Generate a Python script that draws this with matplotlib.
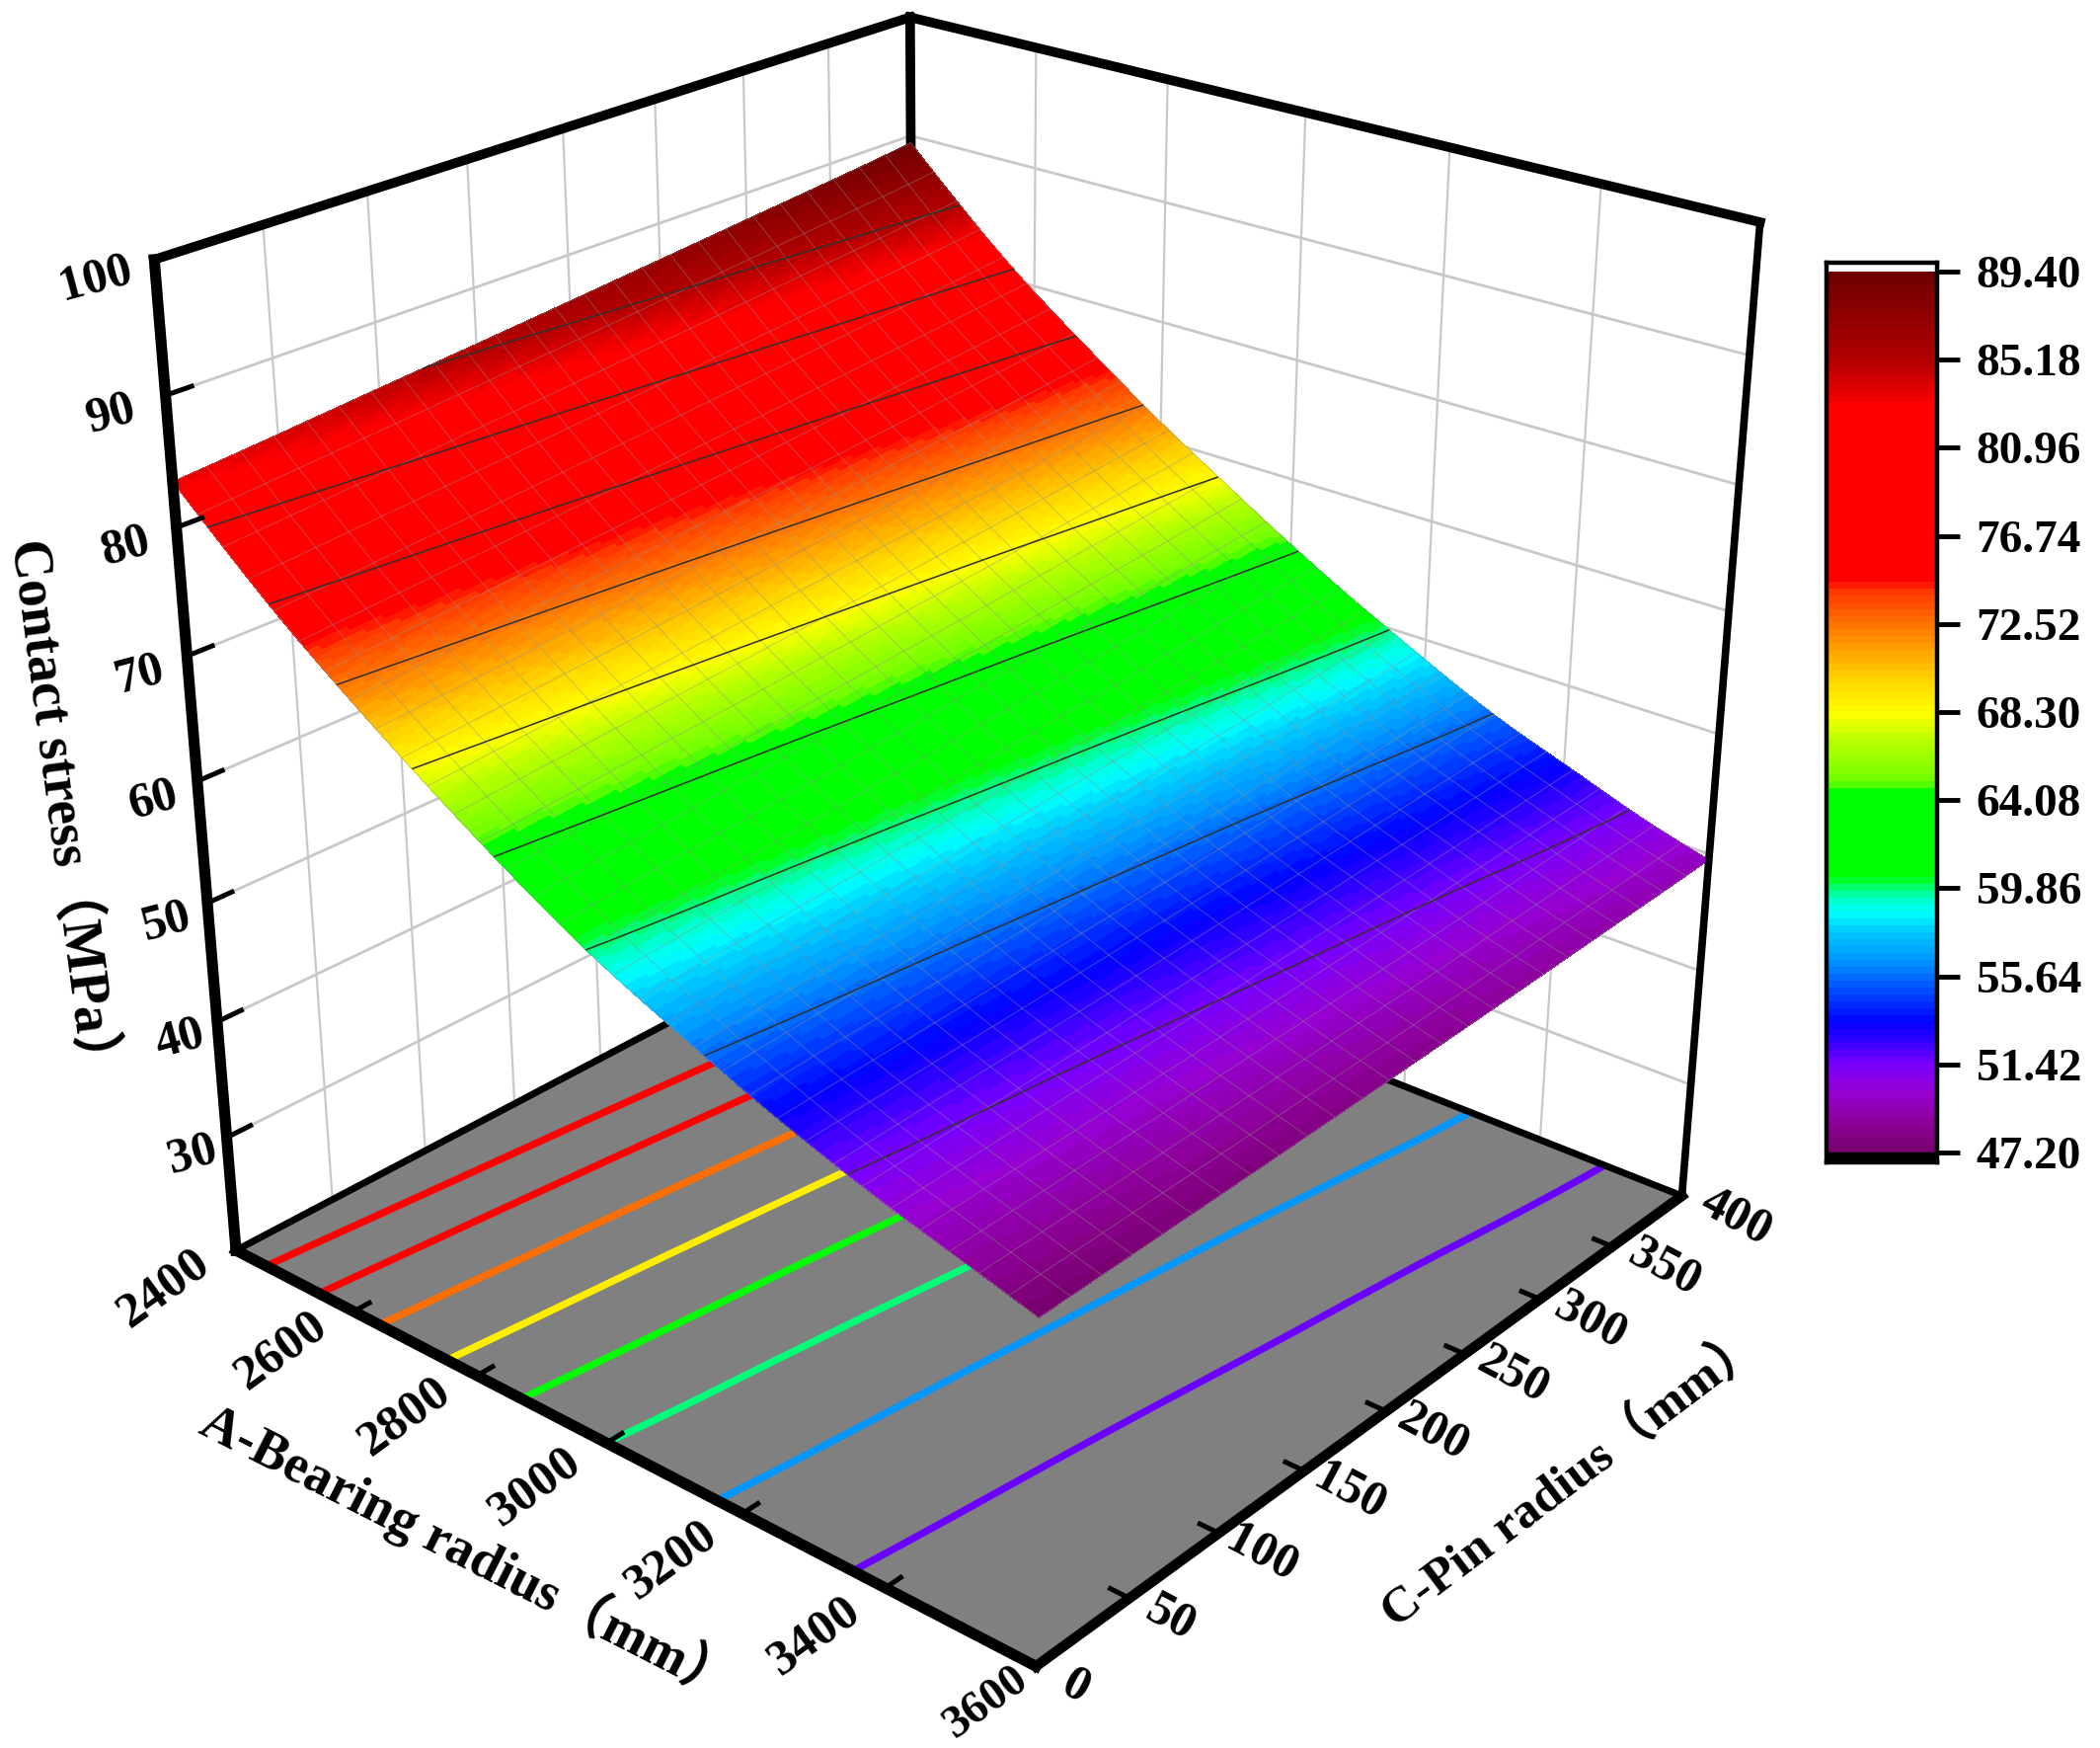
from matplotlib import pyplot as plt
from matplotlib.colors import LinearSegmentedColormap, BoundaryNorm
from matplotlib.tri import Triangulation, CubicTriInterpolator
from mpl_toolkits.mplot3d.art3d import Poly3DCollection
from mpl_toolkits.mplot3d import proj3d
import numpy as np

# values, one list per pin radius
bearing = [2400, 2500, 2600, 2700, 2800, 2900, 3000, 3100, 3200, 3300, 3400, 3500, 3600]
pin = [0, 100, 200, 300, 400]
stress_c0 = [83.50, 78.68, 74.25, 70.28, 66.55, 63.06, 59.86, 57.22, 54.75, 52.53, 50.58, 48.89, 47.20]
stress_c100 = [84.87, 79.95, 75.45, 71.45, 67.67, 64.17, 60.90, 58.12, 55.54, 53.19, 51.18, 49.37, 47.67]
stress_c200 = [86.30, 81.28, 76.72, 72.69, 68.87, 65.34, 62.01, 59.09, 56.39, 53.92, 51.85, 49.93, 48.20]
stress_c300 = [87.81, 82.70, 78.07, 74.01, 70.14, 66.60, 63.20, 60.14, 57.33, 54.72, 52.59, 50.56, 48.82]
stress_c400 = [89.40, 84.18, 79.49, 75.40, 71.48, 67.92, 64.46, 61.26, 58.33, 55.60, 53.41, 51.26, 49.50]

bar_ticks = [47.20, 51.42, 55.64, 59.86, 64.08, 68.30, 72.52, 76.74, 80.96, 85.18, 89.40]
floor_levels = [51.42, 55.64, 59.86, 64.08, 68.30, 72.52, 76.74, 80.96]
floor_colors = ['#6a00ff', '#0096ff', '#00ff78', '#00ff00', '#ffee00', '#ff6e00', '#ff0000', '#ff0000']
bearing_ticks = [2400, 2600, 2800, 3000, 3200, 3400, 3600]
pin_ticks = [0, 50, 100, 150, 200, 250, 300, 350, 400]
stress_ticks = [30, 40, 50, 60, 70, 80, 90, 100]

bar_stops = [47.2, 47.3, 48.4, 49.9, 51.3, 52.4, 53.3, 54.1, 55.1, 56.3, 57.6, 58.55, 59.2, 59.74, 60.3,
             64.48, 64.9, 66.8, 68.2, 69.7, 71.0, 72.6, 74.0, 74.63, 83.16, 83.48, 85.13, 89.4]
bar_colors = ['#780070', '#7c0074', '#8c0096', '#9600d2', '#7800ff', '#3200ff', '#0000ff', '#0028ff',
              '#005aff', '#0096ff', '#00c8ff', '#00ffff', '#00ffc8', '#00ff6e', '#00ff00',
              '#00ff00', '#6eff00', '#b4ff00', '#ffff00', '#ffd700', '#ffaa00', '#ff6e00', '#ff3c00',
              '#ff0000', '#ff0000', '#f00000', '#b40000', '#6e0000']

W, H = 2127, 1770
plt.rcParams['font.family'] = ['Liberation Serif', 'Noto Sans CJK SC']
plt.rcParams['font.weight'] = 'bold'

pos = [(v - bar_stops[0]) / (bar_stops[-1] - bar_stops[0]) for v in bar_stops]
cmap = LinearSegmentedColormap.from_list('stress', list(zip(pos, bar_colors)), N=512)
bands = np.linspace(47.2, 89.4, 129)
norm = BoundaryNorm(bands, cmap.N)

fig = plt.figure(figsize=(W / 100, H / 100), dpi=100)
# the axes is larger than the figure so the front corner is not clipped
S = 2000
ax = fig.add_axes([-48 / W, -24 / H, S / W, S / H], projection='3d', computed_zorder=False)
ax.set_xlim(2400, 3600, view_margin=0)
ax.set_ylim(0, 400, view_margin=0)
ax.set_zlim(20, 100, view_margin=0)
ax.set_box_aspect((1.01, 1, 1.01), zoom=0.92)
ax.view_init(elev=25.4, azim=-49.4)
ax.set_proj_type('persp', focal_length=0.416)
ax.set_axis_off()

# smooth the table for drawing
AA, CC = np.meshgrid(bearing, pin)
table = np.array([stress_c0, stress_c100, stress_c200, stress_c300, stress_c400])
tri = Triangulation(AA.ravel(), CC.ravel())
interp = CubicTriInterpolator(tri, table.ravel())
fa, fc = np.meshgrid(np.linspace(2400, 3600, 241), np.linspace(0, 400, 81))
fz = np.asarray(interp(fa, fc))
wa, wc = np.meshgrid(np.linspace(2400, 3600, 33), np.linspace(0, 400, 26))
wz = np.asarray(interp(wa, wc))


def seg(p, q, **kw):
    ax.plot([p[0], q[0]], [p[1], q[1]], [p[2], q[2]], **kw)


def label(x, y, z, s, **kw):
    # Text3D ignores rotation, so place it in the 2D view of the axes
    px, py, _ = proj3d.proj_transform(x, y, z, ax.get_proj())
    ax.text2D(px, py, s, transform=ax.transData, ha='center', va='center', zorder=8,
              rotation_mode='anchor', clip_on=False, **kw)


# walls
grid = dict(color='#c8c8c8', zorder=1)
for c in pin_ticks[1:-1]:
    seg((2400, c, 20), (2400, c, 100), lw=1.6, **grid)
for a in bearing_ticks[1:-1]:
    seg((a, 400, 20), (a, 400, 100), lw=1.6, **grid)
for z in stress_ticks[:-1]:
    seg((2400, 0, z), (2400, 400, z), lw=2, **grid)
    seg((2400, 400, z), (3600, 400, z), lw=2, **grid)

# floor
floor = Poly3DCollection([[(2400, 0, 20), (3600, 0, 20), (3600, 400, 20), (2400, 400, 20)]],
                         facecolor='#808080', edgecolor='none', zorder=2)
ax.add_collection3d(floor)
ax.contour(fa, fc, fz, levels=floor_levels, offset=20, colors=floor_colors, linewidths=5.2, zorder=3)

# back edges go behind the surface
black = dict(color='k', solid_capstyle='projecting')
seg((2400, 400, 20), (2400, 400, 100), lw=7, zorder=3, **black)
seg((2400, 0, 20), (2400, 400, 20), lw=5, zorder=3, **black)
seg((2400, 400, 20), (3600, 400, 20), lw=5, zorder=3, **black)

# surface
ax.plot_surface(fa, fc, fz, rstride=1, cstride=1, cmap=cmap, norm=norm, linewidth=0,
                antialiased=False, shade=False, zorder=4)
ax.plot_wireframe(wa, wc, wz, rstride=1, cstride=1, color='#909090', alpha=0.45, linewidth=0.7, zorder=5)
ax.contour(fa, fc, fz, levels=bar_ticks[1:-1], colors='#303030', linewidths=1.1, zorder=6)

# box edges
seg((2400, 0, 20), (2400, 0, 100), lw=8, zorder=7, **black)
seg((3600, 400, 20), (3600, 400, 100), lw=5.5, zorder=7, **black)
seg((2400, 0, 100), (2400, 400, 100), lw=7, zorder=7, **black)
seg((2400, 400, 100), (3600, 400, 100), lw=7, zorder=7, **black)
seg((2400, 0, 20), (3600, 0, 20), lw=8, zorder=7, **black)
seg((3600, 0, 20), (3600, 400, 20), lw=7.5, zorder=7, **black)

# tick stubs and labels
stub = dict(color='k', lw=3.6, zorder=7)
for a in bearing_ticks:
    if a not in (2400, 3600):
        seg((a, 0, 20), (a, 8, 20), **stub)
    if a == 3600:
        label(a, -26, 20, str(a), fontsize=34, rotation=36)
    else:
        label(a, -36, 20, str(a), fontsize=37, rotation=36)
for c in pin_ticks:
    if c not in (0, 400):
        seg((3600, c, 20), (3575, c, 20), **stub)
    label(3650 + c * 0.06, c, 20, str(c), fontsize=36, rotation=-28)
for z in stress_ticks:
    if z != 100:
        seg((2400, 0, z), (2400, 12, z), **stub)
    label(2400, -17 - (z - 30) * 0.13, z, str(z), fontsize=36, rotation=15)

fig.text(475 / W, 1 - 1571 / H, 'A-Bearing radius（mm）', fontsize=39, rotation=-27,
         ha='center', va='center', rotation_mode='anchor')
fig.text(1592 / W, 1 - 1497 / H, 'C-Pin radius（mm）', fontsize=37, rotation=37,
         ha='center', va='center', rotation_mode='anchor')
fig.text(63 / W, 1 - 823 / H, 'Contact stress（MPa）', fontsize=40, rotation=-82.5,
         ha='center', va='center', rotation_mode='anchor')

# colour bar
cax = fig.add_axes([1850 / W, 1 - 1177 / H, 112 / W, 911 / H])
cax.pcolormesh([0, 1], bands, (bands[:-1] + bands[1:])[:, None] / 2, cmap=cmap, norm=norm)
cax.axhspan(46.73, 47.2, color='k')
cax.set_xlim(0, 1)
cax.set_ylim(46.73, 89.83)
cax.set_xticks([])
cax.yaxis.tick_right()
cax.set_yticks(bar_ticks)
cax.set_yticklabels(['%.2f' % v for v in bar_ticks], fontsize=34)
cax.tick_params(axis='y', length=16.5, width=3.5, pad=12)
for sp in cax.spines.values():
    sp.set_linewidth(3.2)

fig.savefig('out.png', dpi=100)
